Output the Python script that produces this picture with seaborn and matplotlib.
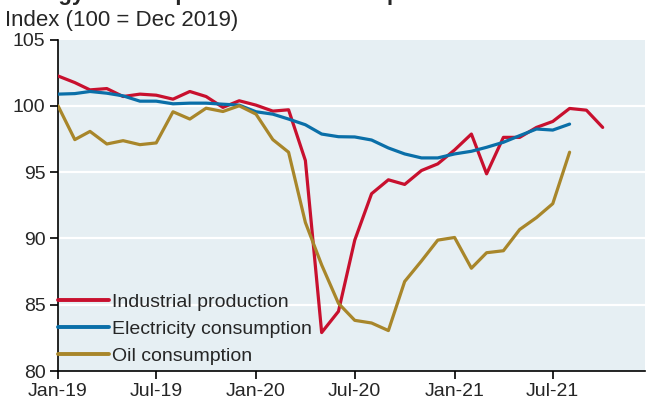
import numpy as np
import pandas as pd
import matplotlib
matplotlib.use("Agg")
import matplotlib.pyplot as plt
import matplotlib.dates as mdates
import seaborn as sns

# ---- data (index, 100 = Dec 2019), monthly from Jan-2019 ----
industrial = [102.25, 101.75, 101.2, 101.3, 100.7, 100.88, 100.8, 100.5, 101.08, 100.7,
              99.88, 100.38, 100.05, 99.6, 99.7, 95.87, 82.9, 84.5, 89.87, 93.37,
              94.42, 94.07, 95.12, 95.62, 96.67, 97.87, 94.87, 97.62, 97.62, 98.37,
              98.82, 99.8, 99.67, 98.37]
electricity = [100.88, 100.92, 101.08, 100.95, 100.75, 100.35, 100.35, 100.15, 100.2, 100.2,
               100.12, 100.05, 99.55, 99.37, 99.0, 98.57, 97.87, 97.67, 97.65, 97.42,
               96.82, 96.37, 96.07, 96.07, 96.37, 96.57, 96.87, 97.25, 97.75, 98.25,
               98.17, 98.62]
oil = [100.0, 97.45, 98.07, 97.12, 97.37, 97.07, 97.2, 99.55, 99.0, 99.82,
       99.57, 100.0, 99.37, 97.45, 96.5, 91.2, 88.0, 85.1, 83.82, 83.62,
       83.05, 86.75, 88.3, 89.87, 90.07, 87.75, 88.92, 89.07, 90.67, 91.57,
       92.62, 96.5]
series_names = ["Industrial production", "Electricity consumption", "Oil consumption"]
series_values = [industrial, electricity, oil]
colors = ["#C8102E", "#0A6FA8", "#A8862A"]
y_ticks = [80, 85, 90, 95, 100, 105]
x_tick_labels = ["Jan-19", "Jul-19", "Jan-20", "Jul-20", "Jan-21", "Jul-21"]
y_label = "Index (100 = Dec 2019)"
title = "Energy consumption and industrial production"

rows = []
for name, vals in zip(series_names, series_values):
    dates = pd.date_range("2019-01-01", periods=len(vals), freq="MS")
    for d, v in zip(dates, vals):
        rows.append({"date": d, "value": v, "series": name})
df = pd.DataFrame(rows)

sns.set_style("white", {"axes.facecolor": "#E6EFF3"})
plt.rcParams["font.family"] = ["Liberation Sans", "DejaVu Sans"]

fig = plt.figure(figsize=(6.47, 4.04), dpi=100)
ax = fig.add_axes([58 / 647, 1 - 371 / 404, (645 - 58) / 647, (371 - 39.5) / 404])

for y in y_ticks[1:-1]:
    ax.axhline(y, color="white", lw=1.6, zorder=1)

sns.lineplot(data=df, x="date", y="value", hue="series", hue_order=series_names,
             palette=colors, linewidth=2.3, ax=ax, zorder=3)

ax.set_ylim(80, 105)
ax.set_yticks(y_ticks)
ax.set_xlim(pd.Timestamp("2019-01-01"), pd.Timestamp("2021-12-18"))
tick_dates = pd.date_range("2019-01-01", periods=len(x_tick_labels), freq="6MS")
ax.set_xticks(tick_dates)
ax.set_xticklabels(x_tick_labels)
ax.set_xlabel("")
ax.set_ylabel("")
ax.tick_params(axis="both", labelsize=14, length=6, width=1.2, direction="out",
               color="black", pad=3, left=True, bottom=True)
for s in ["top", "right"]:
    ax.spines[s].set_visible(False)
for s in ["left", "bottom"]:
    ax.spines[s].set_color("black")
    ax.spines[s].set_linewidth(1.2)

leg = ax.legend(loc="lower left", bbox_to_anchor=(0.0, 0.018), frameon=False,
                fontsize=14, handlelength=2.6, borderaxespad=0.0, borderpad=0.0,
                handletextpad=0.2, labelspacing=0.48)
for line in leg.get_lines():
    line.set_linewidth(2.8)

fig.text(5 / 647, 1 - 26 / 404, y_label, fontsize=16, ha="left", va="baseline")
fig.text(9 / 647, 1 + 0.5 / 404, title, fontsize=16, fontweight="bold",
         ha="left", va="baseline")

fig.savefig("out.png", dpi=100)
